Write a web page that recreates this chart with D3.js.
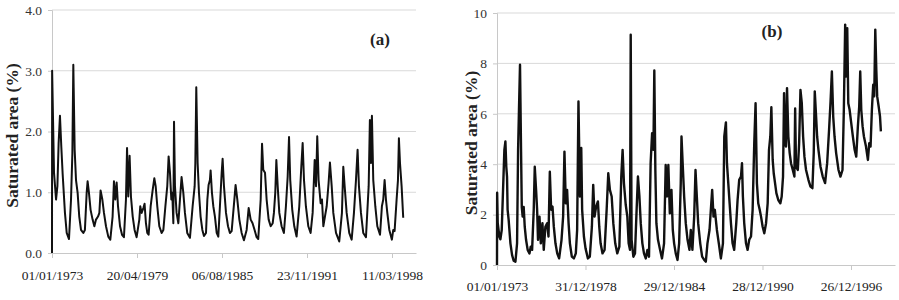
<!DOCTYPE html>
<html>
<head>
<meta charset="utf-8">
<script src="https://cdn.jsdelivr.net/npm/d3@7"></script>
<style>
  body { margin: 0; background: #fff; }
  svg { display: block; }
</style>
</head>
<body>
<svg id="chart"></svg>
<script>
// Panel (a): saturated area (%), time as decimal year
const aTimes = [1973.00,1973.01,1973.15,1973.30,1973.40,1973.49,1973.59,1973.69,1973.79,1973.96,
  1974.09,1974.26,1974.41,1974.51,1974.58,1974.68,1974.78,1974.90,1975.02,1975.15,1975.32,1975.44,
  1975.57,1975.64,1975.74,1975.86,1976.01,1976.14,1976.26,1976.41,1976.51,1976.60,1976.73,1976.85,
  1977.00,1977.17,1977.32,1977.49,1977.59,1977.69,1977.79,1977.89,1978.04,1978.19,1978.33,1978.48,
  1978.56,1978.65,1978.75,1978.85,1978.98,1979.12,1979.27,1979.47,1979.54,1979.64,1979.77,1979.86,
  1979.96,1980.06,1980.16,1980.31,1980.46,1980.58,1980.68,1980.80,1980.95,1981.12,1981.25,1981.40,
  1981.54,1981.64,1981.74,1981.84,1981.91,1981.99,1982.04,1982.11,1982.23,1982.36,1982.48,1982.60,
  1982.73,1982.85,1983.02,1983.22,1983.42,1983.57,1983.62,1983.69,1983.79,1983.89,1984.01,1984.14,
  1984.26,1984.41,1984.51,1984.60,1984.70,1984.75,1984.85,1984.95,1985.07,1985.20,1985.32,1985.44,
  1985.57,1985.64,1985.74,1985.89,1986.04,1986.18,1986.31,1986.51,1986.60,1986.73,1986.88,1987.05,
  1987.22,1987.42,1987.57,1987.72,1987.86,1988.01,1988.16,1988.28,1988.46,1988.56,1988.65,1988.78,
  1988.90,1989.05,1989.20,1989.35,1989.44,1989.54,1989.62,1989.72,1989.84,1990.01,1990.18,1990.33,
  1990.46,1990.56,1990.65,1990.80,1990.95,1991.12,1991.32,1991.47,1991.57,1991.67,1991.81,1991.99,
  1992.16,1992.31,1992.46,1992.56,1992.65,1992.75,1992.90,1993.00,1993.10,1993.22,1993.35,1993.49,
  1993.59,1993.72,1993.84,1994.04,1994.28,1994.48,1994.58,1994.68,1994.83,1995.02,1995.20,1995.37,
  1995.52,1995.64,1995.74,1995.89,1996.06,1996.26,1996.46,1996.55,1996.63,1996.70,1996.80,1996.95,
  1997.10,1997.30,1997.44,1997.54,1997.64,1997.74,1997.84,1997.99,1998.18,1998.28,1998.38,1998.53,
  1998.63,1998.70,1998.78,1998.90,1999.02];
const aSat = [0,3.0,1.32,0.88,1.1,1.8,2.26,1.75,1.3,0.66,
  0.33,0.23,0.88,1.64,3.1,1.7,1.2,0.99,0.6,0.38,0.33,0.38,
  0.99,1.18,0.99,0.71,0.55,0.44,0.55,0.6,0.66,1.03,0.88,0.66,
  0.44,0.27,0.22,0.6,1.18,0.88,1.16,0.77,0.44,0.3,0.26,0.88,
  1.73,0.93,1.6,0.93,0.6,0.38,0.26,0.55,0.77,0.66,0.74,0.81,
  0.49,0.33,0.3,0.77,1.04,1.23,1.1,0.77,0.44,0.33,0.38,0.77,
  1.1,1.59,1.32,0.88,0.99,0.49,2.16,1.1,0.66,0.49,0.88,1.25,
  0.99,0.66,0.33,0.25,0.77,1.1,1.48,2.73,1.48,0.99,0.6,0.38,
  0.28,0.33,0.88,1.12,1.2,1.36,0.99,0.77,0.6,0.33,0.27,0.77,
  1.32,1.55,1.1,0.66,0.44,0.33,0.36,0.88,1.12,0.88,0.55,0.33,
  0.21,0.38,0.74,0.55,0.49,0.38,0.26,0.23,0.88,1.8,1.37,1.32,
  0.88,0.55,0.44,0.49,0.66,0.99,1.53,1.1,0.66,0.44,0.33,0.77,
  1.26,1.91,1.2,0.71,0.44,0.27,0.77,1.42,1.81,1.2,0.77,0.44,
  0.33,0.66,1.53,1.1,1.92,1.2,0.82,0.88,0.44,0.6,0.77,1.15,
  1.49,1.1,0.66,0.33,0.19,0.66,1.42,1.1,0.66,0.33,0.22,0.66,
  1.2,1.7,1.1,0.66,0.33,0.26,1.1,2.19,1.48,2.26,1.2,0.77,
  0.44,0.3,0.77,0.88,1.2,0.88,0.66,0.38,0.22,0.38,0.36,0.88,
  1.2,1.89,1.48,1.1,0.58];

// Panel (b)
const bTimes = [1973.00,1973.01,1973.05,1973.16,1973.23,1973.32,1973.41,1973.50,1973.57,1973.63,
  1973.68,1973.72,1973.79,1973.91,1974.02,1974.13,1974.25,1974.36,1974.43,1974.49,1974.56,1974.63,
  1974.68,1974.74,1974.81,1974.88,1974.97,1975.08,1975.20,1975.29,1975.38,1975.49,1975.56,1975.65,
  1975.72,1975.78,1975.88,1975.97,1976.08,1976.17,1976.28,1976.40,1976.49,1976.58,1976.67,1976.76,
  1976.85,1976.96,1977.08,1977.21,1977.37,1977.48,1977.57,1977.66,1977.75,1977.85,1977.94,1978.07,
  1978.21,1978.34,1978.43,1978.52,1978.62,1978.71,1978.77,1978.89,1979.00,1979.16,1979.29,1979.43,
  1979.52,1979.61,1979.72,1979.84,1979.93,1980.02,1980.15,1980.29,1980.43,1980.54,1980.65,1980.77,
  1980.88,1981.01,1981.15,1981.29,1981.42,1981.51,1981.60,1981.72,1981.83,1981.92,1982.01,1982.06,
  1982.12,1982.24,1982.35,1982.46,1982.55,1982.65,1982.74,1982.85,1982.96,1983.08,1983.19,1983.30,
  1983.41,1983.51,1983.60,1983.66,1983.73,1983.80,1983.91,1984.05,1984.18,1984.32,1984.43,1984.52,
  1984.61,1984.71,1984.82,1984.91,1985.00,1985.11,1985.23,1985.34,1985.45,1985.50,1985.59,1985.68,
  1985.79,1985.91,1986.04,1986.13,1986.24,1986.36,1986.45,1986.54,1986.63,1986.77,1986.90,1987.04,
  1987.15,1987.26,1987.40,1987.49,1987.58,1987.67,1987.76,1987.90,1988.03,1988.17,1988.31,1988.40,
  1988.51,1988.58,1988.67,1988.76,1988.85,1988.96,1989.07,1989.21,1989.30,1989.41,1989.53,1989.60,
  1989.66,1989.75,1989.87,1989.98,1990.09,1990.21,1990.32,1990.43,1990.52,1990.61,1990.70,1990.80,
  1990.89,1991.00,1991.11,1991.23,1991.34,1991.43,1991.52,1991.59,1991.68,1991.75,1991.84,1991.93,
  1992.06,1992.20,1992.29,1992.38,1992.45,1992.52,1992.58,1992.65,1992.74,1992.83,1992.92,1993.04,
  1993.15,1993.20,1993.26,1993.38,1993.47,1993.56,1993.65,1993.74,1993.83,1993.94,1994.10,1994.24,
  1994.37,1994.46,1994.53,1994.62,1994.69,1994.78,1994.92,1995.07,1995.23,1995.37,1995.50,1995.60,
  1995.69,1995.78,1995.87,1995.98,1996.14,1996.27,1996.41,1996.50,1996.59,1996.66,1996.73,1996.80,
  1996.89,1997.00,1997.11,1997.23,1997.34,1997.45,1997.54,1997.61,1997.68,1997.77,1997.86,1998.00,
  1998.13,1998.22,1998.31,1998.40,1998.49,1998.56,1998.63,1998.70,1998.76,1998.86,1998.95,1999.01];
const bSat = [0,2.87,1.66,1.13,1.02,1.39,2.98,4.57,4.9,3.9,
  3.5,2.19,1.79,0.86,0.4,0.17,0.13,0.86,4.57,6.16,7.95,4.57,
  2.3,1.92,2.3,1.52,1.0,0.6,0.46,0.73,0.6,2.19,3.9,2.98,
  2.19,1.0,1.92,0.86,1.66,0.6,1.52,1.66,1.13,3.7,2.19,2.32,
  1.52,0.86,0.46,0.26,0.99,1.92,4.5,2.45,2.98,1.66,0.86,0.33,
  0.26,0.46,1.39,6.49,2.72,4.64,2.19,1.13,0.66,0.26,0.33,1.52,
  3.18,1.92,2.32,2.52,1.52,0.86,0.46,0.6,2.19,3.64,2.98,2.72,
  1.66,0.86,0.46,0.73,3.51,4.57,3.25,2.4,1.92,0.86,0.6,9.14,
  1.0,0.33,0.46,2.19,3.51,2.72,1.66,0.86,0.46,0.26,0.6,0.33,
  4.04,5.23,4.57,7.72,3.77,1.66,1.0,0.6,0.26,0.86,3.97,2.72,
  3.97,2.05,2.98,1.39,0.86,0.46,0.2,0.86,3.25,5.1,3.9,2.72,
  1.66,1.0,0.6,1.39,0.6,1.92,3.77,2.72,1.66,0.86,0.33,0.2,
  0.13,0.86,1.39,2.19,2.98,1.92,2.19,1.39,0.86,0.26,0.86,5.1,
  5.66,4.04,3.25,2.45,1.66,0.86,0.6,1.66,2.58,3.38,3.51,4.04,
  2.72,1.66,0.86,0.6,1.0,1.13,2.19,4.83,6.42,3.25,2.45,2.19,
  1.92,1.52,1.26,1.66,2.45,4.57,5.1,6.26,4.17,3.64,3.25,2.85,
  2.58,2.45,2.72,3.51,6.82,4.83,4.7,7.02,5.1,4.44,4.04,3.77,
  3.51,6.21,3.9,3.77,4.83,6.95,6.42,5.1,4.3,3.77,3.38,3.11,
  3.05,4.44,6.89,5.9,5.1,4.57,3.9,3.51,3.25,4.04,5.36,6.49,
  7.68,5.9,5.1,4.44,3.77,3.51,3.77,6.16,9.54,7.48,9.4,6.42,
  6.16,5.63,5.1,4.57,4.3,5.5,6.29,7.68,6.16,5.5,5.1,4.7,
  4.17,4.83,4.7,6.16,7.15,6.69,9.34,7.75,6.69,6.29,5.9,5.3];

const timeDomain = ["1973-01-01", "1999-12-20"];
const aTickDates = ["1973-01-01", "1979-04-20", "1985-08-06", "1991-11-23", "1998-03-11"];
const bTickDates = ["1973-01-01", "1978-12-31", "1984-12-29", "1990-12-28", "1996-12-26"];
const aYTicks = [0, 1, 2, 3, 4];
const bYTicks = [0, 2, 4, 6, 8, 10];

const SERIF = "'Liberation Serif', 'Times New Roman', Tinos, 'DejaVu Serif', serif";

// decimal year -> Date (UTC)
const toDate = y => {
  const yr = Math.floor(y);
  const s = Date.UTC(yr, 0, 1), e = Date.UTC(yr + 1, 0, 1);
  return new Date(s + (y - yr) * (e - s));
};

const svg = d3.select("#chart").attr("width", 899).attr("height", 300);

const panels = [
  { times: aTimes, vals: aSat, ticks: aTickDates, yTicks: aYTicks, yFmt: d3.format(".1f"),
    left: 52, right: 416, top: 10, bottom: 253, tag: "(a)", tagX: 380, tagY: 45,
    titleX: 12, xLabelY: 280, lw: 2 },
  { times: bTimes, vals: bSat, ticks: bTickDates, yTicks: bYTicks, yFmt: d3.format("d"),
    left: 497, right: 895, top: 13, bottom: 265, tag: "(b)", tagX: 772, tagY: 37,
    titleX: 471, xLabelY: 291, lw: 2.4 }
];

const parse = d3.utcParse("%Y-%m-%d");

panels.forEach(p => {
  const x = d3.scaleUtc().domain(timeDomain.map(parse)).range([p.left, p.right]);
  const y = d3.scaleLinear().domain(d3.extent(p.yTicks)).range([p.bottom, p.top]);
  const g = svg.append("g");

  // gridlines
  g.append("g")
    .selectAll("line")
    .data(p.yTicks.filter(d => d > 0))
    .join("line")
    .attr("x1", p.left).attr("x2", p.right)
    .attr("y1", d => y(d)).attr("y2", d => y(d))
    .attr("stroke", "#d9d9d9");

  // y axis
  const ya = g.append("g")
    .attr("transform", `translate(${p.left},0)`)
    .call(d3.axisLeft(y).tickValues(p.yTicks).tickFormat(p.yFmt).tickSize(4).tickPadding(6));
  ya.attr("font-family", null);
  ya.select(".domain").attr("stroke", "#c8c8c8");
  ya.selectAll(".tick line").attr("stroke", "#c8c8c8");
  ya.selectAll("text").attr("fill", "#333")
    .style("font-family", SERIF).style("font-size", "13.5px");

  // x axis
  const xa = g.append("g")
    .attr("transform", `translate(0,${p.bottom})`)
    .call(d3.axisBottom(x).tickValues(p.ticks.map(parse)).tickFormat(d3.utcFormat("%d/%m/%Y"))
      .tickSize(5).tickSizeOuter(0).tickPadding(p.xLabelY - p.bottom - 15));
  xa.attr("font-family", null);
  xa.select(".domain").attr("stroke", "#c8c8c8");
  xa.selectAll(".tick line").attr("stroke", "#c8c8c8");
  xa.selectAll("text").attr("fill", "#222")
    .style("font-family", SERIF).style("font-size", "13.5px");

  // series
  const data = p.times.map((t, i) => ({ t: toDate(t), v: p.vals[i] }));
  g.append("path")
    .datum(data)
    .attr("fill", "none")
    .attr("stroke", "#111")
    .attr("stroke-width", p.lw)
    .attr("stroke-linejoin", "round")
    .attr("d", d3.line().x(d => x(d.t)).y(d => y(d.v)));

  // axis title
  g.append("text")
    .attr("transform", `translate(${p.titleX},${(p.top + p.bottom) / 2 + 4}) rotate(-90)`)
    .attr("text-anchor", "middle")
    .attr("dominant-baseline", "central")
    .style("font-family", SERIF)
    .style("font-size", "17.5px")
    .style("font-weight", "bold")
    .attr("fill", "#222")
    .text("Saturated area (%)");

  // panel tag
  g.append("text")
    .attr("x", p.tagX).attr("y", p.tagY)
    .attr("text-anchor", "middle")
    .style("font-family", SERIF)
    .style("font-size", "17px")
    .style("font-weight", "bold")
    .attr("fill", "#222")
    .text(p.tag);
});
</script>
</body>
</html>
